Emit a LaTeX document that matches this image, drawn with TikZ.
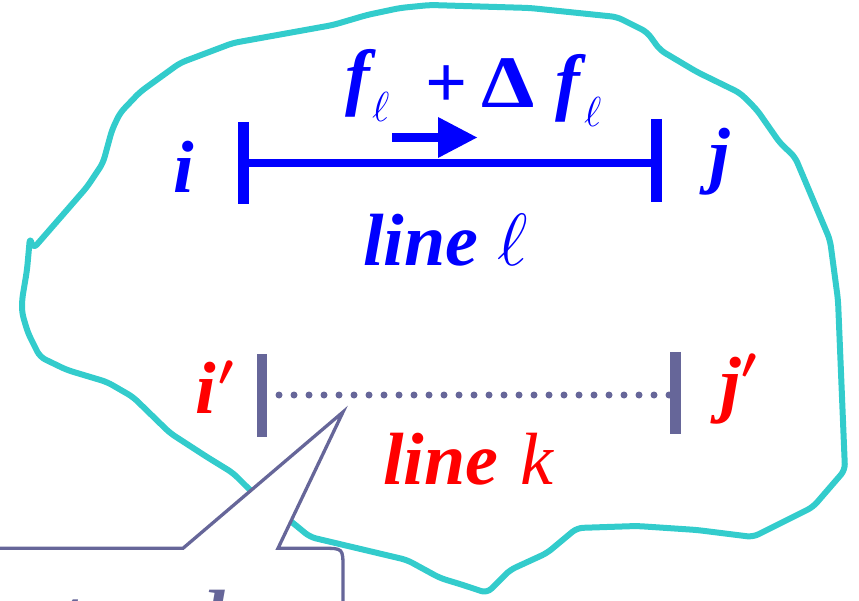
\documentclass[tikz,border=0pt]{standalone}
\usepackage{fix-cm}
\usepackage{fontspec}
\setmainfont{Liberation Serif}
\definecolor{blobcyan}{RGB}{51,204,204}
\definecolor{slate}{RGB}{102,102,153}
\definecolor{pblue}{RGB}{0,0,255}
\definecolor{pred}{RGB}{255,0,0}
\tikzset{
  lbl/.style={inner sep=0pt, outer sep=0pt, anchor=base west, font=\fontsize{74}{80}\selectfont\bfseries\itshape},
  mlbl/.style={inner sep=0pt, outer sep=0pt, anchor=base west, font=\fontsize{74}{80}\selectfont},
  sublbl/.style={inner sep=0pt, outer sep=0pt, anchor=base west, font=\fontsize{42}{44}\selectfont},
  primelbl/.style={inner sep=0pt, outer sep=0pt, anchor=base west, font=\fontsize{44}{46}\selectfont\boldmath},
  blob/.style={draw=blobcyan, line width=6pt, rounded corners=6pt, line join=round},
  busbar/.style={line width=11pt},
  dotline/.style={draw=slate, line width=7pt, line cap=round, dash pattern=on 0pt off 15pt},
  callout/.style={draw=slate, line width=3.3pt, fill=white, line join=miter},
}
\begin{document}
\begin{tikzpicture}[x=1pt,y=-1pt]
\useasboundingbox (0,0) rectangle (859,601);
\clip (0,0) rectangle (859,601);
% region outline
\draw[blob] (333,25) -- (367,15) -- (400,8) -- (430,5) -- (530,8) -- (617,17) -- (647,32) -- (660,50)
  -- (697,72) -- (740,93) -- (757,110) -- (780,143) -- (795,157) -- (830,240) -- (838,300)
  -- (845,470) -- (813,507) -- (753,537) -- (697,530) -- (637,526) -- (577,528) -- (547,553)
  -- (510,570) -- (487,593) -- (463,585) -- (440,578) -- (407,560) -- (310,537) -- (293,523)
  -- (250,490) -- (233,473) -- (207,457) -- (170,433) -- (133,397) -- (107,382) -- (67,370)
  -- (40,357) -- (28,333) -- (22,313) -- (22,300) -- (27,270) -- (30,237) -- (33,249)
  -- (87,187) -- (103,163) -- (112,130) -- (120,113) -- (140,92) -- (180,63) -- (233,43) -- cycle;
% line l (blue)
\coordinate (iT) at (243.5,122); \coordinate (iB) at (243.5,204);
\coordinate (jT) at (656.5,119); \coordinate (jB) at (656.5,202);
\coordinate (iM) at (243.5,163); \coordinate (jM) at (656.5,163);
\draw[pblue, busbar] (iT) -- (iB);
\draw[pblue, busbar] (jT) -- (jB);
\draw[pblue, line width=8pt] (iM) -- (jM);
\coordinate (aS) at (392,137.5); \coordinate (aB) at (439,137.5);
\draw[pblue, line width=9pt] (aS) -- (aB);
\fill[pblue] (438,117) -- (477,137.5) -- (438,158) -- cycle;
% blue labels
\node[lbl, text=pblue] (ni) at (173,193) {i};
\node[lbl, text=pblue] (nj) at (709,180) {j};
\node[lbl, text=pblue] (f1) at (345.5,102) {f};
\node[sublbl, text=pblue] (s1) at (372,122) {$\ell$};
\node[mlbl, text=pblue, font=\fontsize{74}{80}\selectfont\bfseries] (plus) at (425.5,108) {+};
\node[mlbl, text=pblue, font=\fontsize{74}{80}\selectfont\bfseries] (delta) at (481,108) {\scalebox{1.15}[1]{Δ}};
\node[lbl, text=pblue] (f2) at (555.5,107) {f};
\node[sublbl, text=pblue] (s2) at (584,127) {$\ell$};
\node[lbl, text=pblue] (lineL) at (363,266) {line};
\node[mlbl, text=pblue] (ellL) at (497,266) {$\ell$};
% line k (slate / red)
\coordinate (ipT) at (262,354); \coordinate (ipB) at (262,437);
\coordinate (jpT) at (675,352); \coordinate (jpB) at (675,434);
\draw[slate, line width=10.5pt] (ipT) -- (ipB);
\draw[slate, line width=11pt] (jpT) -- (jpB);
\coordinate (dS) at (279,395); \coordinate (dE) at (670,395);
\draw[dotline] (dS) -- (dE);
\node[lbl, text=pred] (nip) at (195,413) {i};
\node[primelbl, text=pred] (nipp) at (218,385) {$\prime$};
\node[lbl, text=pred] (njp) at (720,408) {j};
\node[primelbl, text=pred] (njpp) at (741,378) {$\prime$};
\node[lbl, text=pred] (lineK) at (383,484) {line};
\node[lbl, text=pred, font=\fontsize{74}{80}\selectfont\itshape] (kK) at (520.5,484) {k};
% callout
\coordinate (cL) at (-10,548.3); \coordinate (cB1) at (183,548.3);
\coordinate (cTip) at (343,412); \coordinate (cB2) at (278,548.3);
\coordinate (cC) at (323,548.3); \coordinate (cR) at (343,568.3);
\draw[callout] (cL) -- (cB1) -- (cTip) -- (cB2) -- (cC) .. controls (343,548.3) .. (cR) -- (343,640) -- (-10,640) -- cycle;
\node[lbl, text=slate] (ctext) at (-18,641) {outaged};
\end{tikzpicture}
\end{document}
